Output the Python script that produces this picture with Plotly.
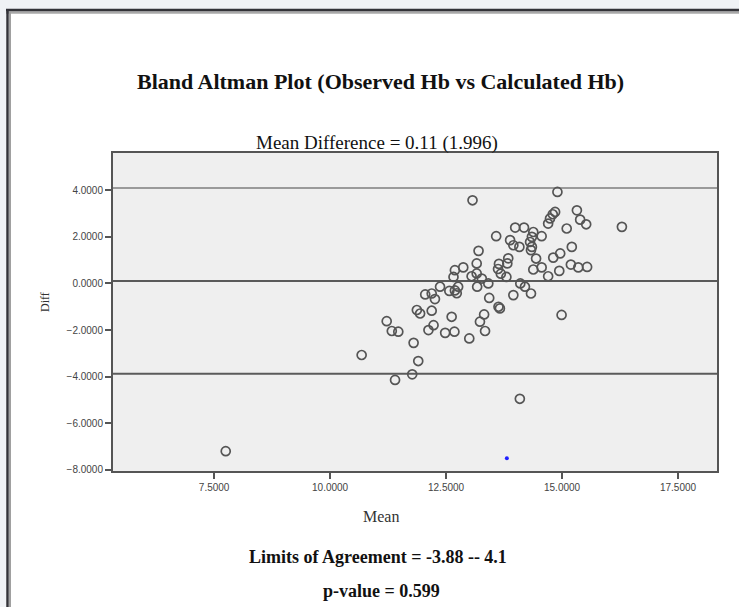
import plotly.graph_objects as go

# ---- data ----
mean_vals = [
    14.90, 14.85, 14.80, 14.74, 14.70, 15.32, 15.39, 15.52, 15.10, 16.29,
    13.99, 14.18, 14.38, 14.35, 14.31, 14.35, 14.33, 14.56, 13.88, 13.95,
    14.08, 13.58, 15.21, 14.81, 14.96, 14.44, 14.38, 14.56, 14.70, 14.94,
    15.19, 15.35, 15.54, 13.64, 13.62, 13.68, 13.84, 13.82, 13.80, 14.10,
    14.20, 14.33, 13.95, 13.07, 13.20, 12.69, 12.87, 12.66, 13.05, 13.16,
    13.16, 13.27, 13.41, 13.17, 12.57, 12.69, 12.73, 12.76, 12.37, 12.05,
    12.19, 12.26, 11.87, 11.94, 12.19, 12.62, 12.12, 12.23, 12.48, 12.68,
    13.00, 13.23, 13.32, 13.34, 13.43, 13.63, 13.66, 11.22, 11.33, 11.47,
    10.68, 11.80, 11.90, 11.77, 11.40, 7.75, 14.09, 14.99,
]
diff_vals = [
    3.93, 3.07, 2.97, 2.79, 2.57, 3.14, 2.74, 2.54, 2.36, 2.43,
    2.40, 2.40, 2.21, 2.00, 1.78, 1.57, 1.43, 2.03, 1.86, 1.64,
    1.57, 2.03, 1.57, 1.11, 1.29, 1.07, 0.60, 0.69, 0.31, 0.54,
    0.81, 0.69, 0.71, 0.84, 0.62, 0.42, 1.08, 0.86, 0.28, 0.00,
    -0.14, -0.43, -0.50, 3.57, 1.40, 0.57, 0.69, 0.28, 0.31, 0.43,
    0.86, 0.21, 0.00, -0.14, -0.32, -0.30, -0.42, -0.14, -0.14, -0.47,
    -0.43, -0.67, -1.14, -1.29, -1.17, -1.43, -2.00, -1.79, -2.12, -2.07,
    -2.36, -1.64, -1.33, -2.04, -0.62, -1.00, -1.07, -1.62, -2.04, -2.07,
    -3.07, -2.55, -3.33, -3.90, -4.14, -7.20, -4.95, -1.35,
]
extra_x = [13.81]
extra_y = [-7.50]

ref_lines = [4.10, 0.11, -3.88]
ref_colors = ["#9a9a9a", "#5a5a5a", "#5a5a5a"]
x_ticks = [7.5, 10.0, 12.5, 15.0, 17.5]
y_ticks = [-8, -6, -4, -2, 0, 2, 4]

title_text = "Bland Altman Plot (Observed Hb vs Calculated Hb)"
subtitle_text = "Mean Difference = 0.11 (1.996)"
loa_text = "Limits of Agreement = -3.88 -- 4.1"
p_text = "p-value = 0.599"
x_label = "Mean"
y_label = "Diff"

# ---- layout geometry ----
W, H = 739, 607
ML, MR, MT, MB = 113, 22, 153, 136
PW = W - ML - MR
PH = H - MT - MB

def px(x):
    return (x - ML) / PW

def py(y):
    return (H - MB - y) / PH

fig = go.Figure()
fig.add_trace(go.Scatter(
    x=mean_vals, y=diff_vals, mode="markers",
    marker=dict(symbol="circle-open", size=9, color="#555555",
                line=dict(width=1.7, color="#555555")),
    showlegend=False, hoverinfo="x+y",
))
fig.add_trace(go.Scatter(
    x=extra_x, y=extra_y, mode="markers",
    marker=dict(symbol="circle", size=4, color="#2020ff"),
    showlegend=False,
))

shapes = []
# page frame
shapes.append(dict(type="rect", xref="paper", yref="paper",
                   x0=px(0), x1=px(W), y0=py(0), y1=py(9),
                   fillcolor="#f0f2f5", line=dict(width=0), layer="below"))
shapes.append(dict(type="rect", xref="paper", yref="paper",
                   x0=px(0), x1=px(6), y0=py(0), y1=py(H),
                   fillcolor="#f0f2f5", line=dict(width=0), layer="below"))
shapes.append(dict(type="line", xref="paper", yref="paper",
                   x0=px(6), x1=px(W), y0=py(12.5), y1=py(12.5),
                   line=dict(color="#a8a8a8", width=2.5)))
shapes.append(dict(type="line", xref="paper", yref="paper",
                   x0=px(6), x1=px(W), y0=py(10), y1=py(10),
                   line=dict(color="#333338", width=2.5)))
shapes.append(dict(type="line", xref="paper", yref="paper",
                   x0=px(10), x1=px(10), y0=py(12), y1=py(H),
                   line=dict(color="#a0a0a0", width=2)))
shapes.append(dict(type="line", xref="paper", yref="paper",
                   x0=px(7.5), x1=px(7.5), y0=py(9), y1=py(H),
                   line=dict(color="#333338", width=2.5)))
# reference lines
for v, c in zip(ref_lines, ref_colors):
    shapes.append(dict(type="line", xref="paper", yref="y",
                       x0=0, x1=1, y0=v, y1=v,
                       line=dict(color=c, width=2), layer="below"))

serif = "Liberation Serif, Times New Roman, serif"

def note(text, x, y, size, bold=False, color="#111111", angle=0):
    t = "<b>" + text + "</b>" if bold else text
    return dict(text=t, x=px(x), y=py(y), xref="paper", yref="paper",
                xanchor="center", yanchor="middle", showarrow=False,
                textangle=angle,
                font=dict(family=serif, size=size, color=color))

annotations = [
    note(title_text, 380, 81, 22, bold=True),
    note(subtitle_text, 377, 143, 19),
    note(loa_text, 378, 557, 18, bold=True),
    note(p_text, 381, 591, 18, bold=True),
    note(x_label, 381, 516, 16, color="#333333"),
    note(y_label, 45, 302, 12, color="#333333", angle=-90),
]

fig.update_layout(
    width=W, height=H,
    margin=dict(l=ML, r=MR, t=MT, b=MB, pad=0),
    paper_bgcolor="white", plot_bgcolor="#efefef",
    shapes=shapes, annotations=annotations,
    xaxis=dict(range=[5.32, 18.34], tickvals=x_ticks, tickformat=".4f",
               showgrid=False, zeroline=False, showline=True, mirror=True,
               linecolor="#555555", linewidth=2, ticks="outside", ticklen=6,
               tickcolor="#555555", tickwidth=1.5,
               tickfont=dict(family="Liberation Sans, Arial", size=10, color="#444444")),
    yaxis=dict(range=[-8.05, 5.6], tickvals=y_ticks, tickformat=".4f",
               showgrid=False, zeroline=False, showline=True, mirror=True,
               linecolor="#555555", linewidth=2, ticks="outside", ticklen=6,
               tickcolor="#555555", tickwidth=1.5,
               tickfont=dict(family="Liberation Sans, Arial", size=10, color="#444444")),
)

fig.write_html("out.html",
               config={"displayModeBar": False},
               post_script="document.body.style.margin='0';document.body.style.padding='0';")
